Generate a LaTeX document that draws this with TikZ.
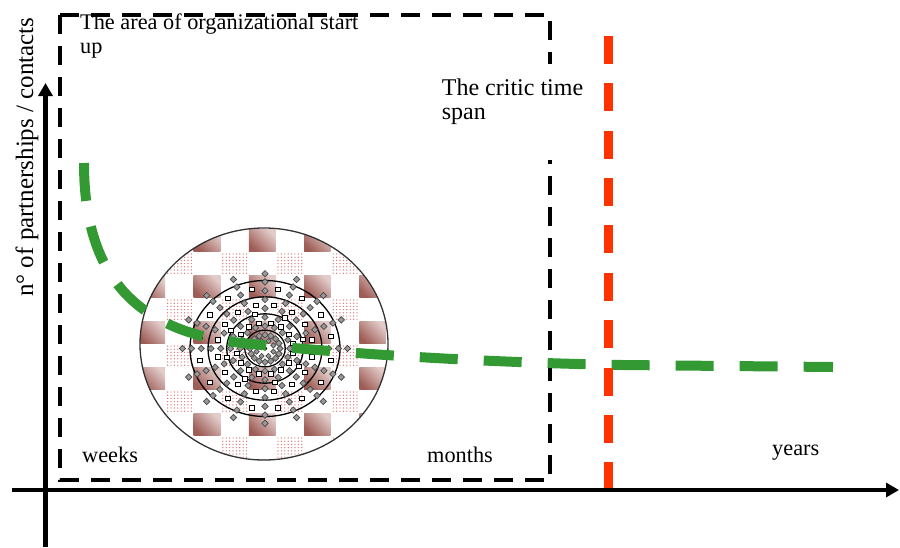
\documentclass[tikz,border=0pt]{standalone}
\usepackage{fontspec}
\setmainfont{Liberation Serif}
\usetikzlibrary{arrows.meta}

\definecolor{curvegreen}{RGB}{51,153,51}
\definecolor{critred}{RGB}{255,51,0}
\definecolor{tiledark}{RGB}{158,92,86}
\definecolor{tilelight}{RGB}{226,204,202}
\definecolor{dotpink}{RGB}{222,118,118}
\definecolor{markgray}{RGB}{70,70,70}

\tikzset{
  axisline/.style={line width=4.5pt, -{Triangle[length=13pt,width=14pt]}},
  startbox/.style={line width=4pt, dash pattern=on 19pt off 12pt},
  critline/.style={critred, line width=9pt, dash pattern=on 28pt off 19.4pt},
  greencurve/.style={curvegreen, line width=10pt, dash pattern=on 38pt off 26pt},
  label/.style={inner sep=0pt, anchor=base west, font=\fontsize{22.3}{23.5}\selectfont},
  biglabel/.style={inner sep=0pt, anchor=base west, font=\fontsize{24}{24}\selectfont},
  sidelabel/.style={inner sep=0pt, anchor=base west, font=\fontsize{25}{25}\selectfont},
  ring/.style={line width=1.3pt},
  diam/.style={fill=markgray!55, draw=markgray, line width=0.7pt},
  sq/.style={fill=white, draw=black, line width=0.9pt},
}

\begin{document}
\begin{tikzpicture}[x=1pt,y=-1pt]
\useasboundingbox (0,0) rectangle (900,547);

% area of organizational start up
\draw[startbox] (60,15) rectangle (550,480);
\node[label, align=left] (areatitle) at (80,53.3) {The area of organizational start\\up};

% critic time span label, blanking the box edge behind it
\fill[white] (432,64) rectangle (600,160);
\node[biglabel, align=left] (critic) at (441.7,119.3) {The critic time\\span};

% time labels
\node[label] (weeks) at (82,462) {weeks};
\node[label] (months) at (427,462) {months};
\node[label] (years) at (772,455) {years};

% chequered disc: shaded tiles and dotted tiles on a diagonal grid
\begin{scope}
  \clip (264,344) ellipse [x radius=124, y radius=116];
  \fill[white] (130,220) rectangle (400,470);
  \foreach \c in {0,2,4,6,8}
    \foreach \r in {0,2,4,6,8,10}
      \shade[top color=tilelight, bottom color=tiledark, shading angle=-45]
        ({138+27.6*\c+0.5},{229+23*\r+0.5}) rectangle ++(26.6,22);
  \foreach \c in {1,3,5,7}
    \foreach \r in {-1,1,3,5,7,9}
      \foreach \i in {0,...,7}
        \foreach \j in {0,...,6}
          \fill[dotpink] ({138+27.6*\c+2+3.4*\i},{229+23*\r+2+3.2*\j}) circle (0.7);
\end{scope}
\draw[line width=1.3pt, black!80] (264,344) ellipse [x radius=124, y radius=116];

% target rings with markers
\foreach \f in {1,0.76,0.51,0.27}
  \draw[ring] (265,348.5) ellipse [x radius={75*\f}, y radius={68*\f}];
\foreach \a in {0,22.5,...,337.5}
  \foreach \f in {0.2,0.33,0.46,0.59,0.72,0.85,0.98,1.1}
    \path[diam] ({265+75*\f*cos(\a)},{348.5+68*\f*sin(\a)})
      +(0,-3.2) -- +(3.2,0) -- +(0,3.2) -- +(-3.2,0) -- cycle;
\foreach \a in {11.25,33.75,...,348.75}
  \foreach \f in {0.38,0.64,0.89}
    \path[sq] ({265+75*\f*cos(\a)-2.5},{348.5+68*\f*sin(\a)-2.1}) rectangle +(5,4.2);
\foreach \a in {0,45,...,315}
  \path[sq] ({265+75*0.52*cos(\a+22.5+8)-2.5},{348.5+68*0.52*sin(\a+22.5+8)-2.1}) rectangle +(5,4.2);
\foreach \a in {0,45,...,315}
  \path[diam] ({265+75*0.12*cos(\a+22.5)},{348.5+68*0.12*sin(\a+22.5)})
      +(0,-2.6) -- +(2.6,0) -- +(0,2.6) -- +(-2.6,0) -- cycle;
\fill (265,348.5) circle (2);

% partnerships curve
\draw[greencurve] (84,163) .. controls (84,280) and (140,332) .. (242,343)
  .. controls (300,349.3) and (450,362) .. (623,365) -- (833,367);

% critic time line
\coordinate (crittop) at (608.5,35.7);
\coordinate (critbot) at (608.5,490);
\draw[critline] (crittop) -- (critbot);

% axes
\coordinate (xstart) at (12,490);
\coordinate (xend) at (899,490);
\coordinate (ystart) at (45.5,547);
\coordinate (yend) at (45.5,83);
\draw[axisline] (xstart) -- (xend);
\draw[axisline] (ystart) -- (yend);
\node[sidelabel, rotate=90] (ylabel) at (33,297) {n° of partnerships / contacts};
\end{tikzpicture}
\end{document}
